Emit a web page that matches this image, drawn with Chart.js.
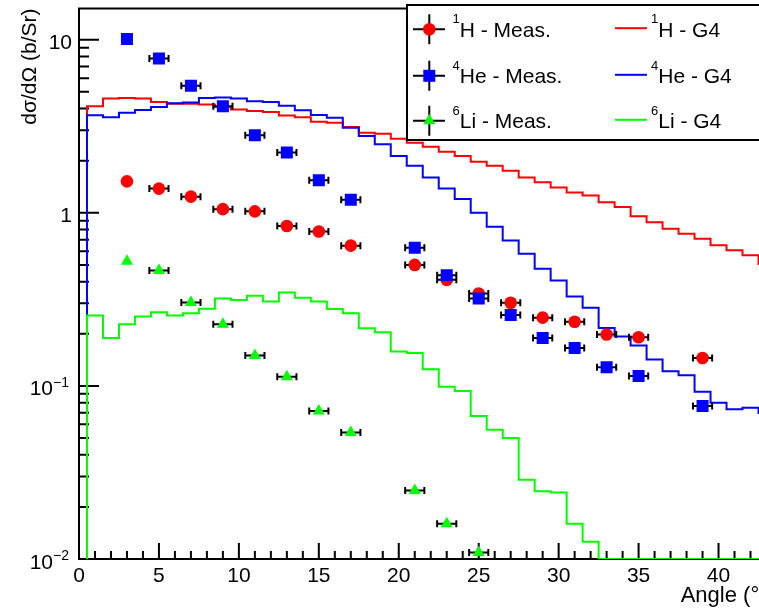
<!DOCTYPE html>
<html lang="en">
<head>
<meta charset="UTF-8">
<title>Angular distribution</title>
<script src="https://cdn.jsdelivr.net/npm/chart.js@4"></script>
<style>
  html, body { margin: 0; padding: 0; background: #fff; overflow: hidden; }
  #wrap { width: 759px; height: 611px; overflow: hidden; }
  canvas { display: block; }
</style>
</head>
<body>
<div id="wrap"><canvas id="xsec" width="775" height="611"></canvas></div>
<script>
// measured points: angle (deg) and dsigma/dOmega (b/Sr)
const measAngles = [3, 5, 7, 9, 11, 13, 15, 17, 21, 23, 25, 27, 29, 31, 33, 35, 39];
const liAngles   = [3, 5, 7, 9, 11, 13, 15, 17, 21, 23, 25];
const hMeas  = [1.52, 1.38, 1.24, 1.05, 1.02, 0.84, 0.78, 0.646, 0.50, 0.41, 0.342, 0.302, 0.248, 0.235, 0.198, 0.191, 0.145];
const heMeas = [10.1, 7.8, 5.42, 4.13, 2.81, 2.23, 1.54, 1.19, 0.629, 0.436, 0.32, 0.257, 0.189, 0.1655, 0.128, 0.114, 0.0766];
const liMeas = [0.525, 0.464, 0.303, 0.227, 0.150, 0.113, 0.0717, 0.0538, 0.0249, 0.0160, 0.0109];
const measErr = [0, 0.6, 0.6, 0.6, 0.6, 0.6, 0.6, 0.6, 0.6, 0.6, 0.6, 0.6, 0.6, 0.6, 0.6, 0.6, 0.6];
const liErr   = [0, 0.6, 0.6, 0.6, 0.6, 0.6, 0.6, 0.6, 0.6, 0.6, 0.6];

// Geant4 histograms, 1 deg bins centred on these angles
const binCenters = [1, 2, 3, 4, 5, 6, 7, 8, 9, 10, 11, 12, 13, 14, 15, 16, 17, 18, 19, 20, 21,
  22, 23, 24, 25, 26, 27, 28, 29, 30, 31, 32, 33, 34, 35, 36, 37, 38, 39, 40, 41, 42, 43];
const hG4 = [4.13, 4.57, 4.61, 4.57, 4.37, 4.27, 4.27, 4.22, 4.09, 3.95, 3.87, 3.82, 3.65, 3.57, 3.36,
  3.31, 3.13, 2.90, 2.86, 2.68, 2.54, 2.41, 2.25, 2.13, 1.97, 1.87, 1.75, 1.60, 1.50, 1.40, 1.31,
  1.26, 1.15, 1.08, 0.955, 0.883, 0.809, 0.757, 0.708, 0.649, 0.607, 0.569, 0.507];
const heG4 = [3.66, 3.56, 3.78, 3.93, 4.09, 4.29, 4.34, 4.61, 4.64, 4.57, 4.41, 4.37, 4.16, 3.92, 3.67,
  3.54, 3.10, 2.78, 2.49, 2.13, 1.87, 1.60, 1.38, 1.20, 1.00, 0.832, 0.693, 0.581, 0.475, 0.406, 0.328,
  0.283, 0.216, 0.193, 0.171, 0.142, 0.1216, 0.1153, 0.0925, 0.080, 0.0733, 0.0749, 0.0698];
const liG4 = [0.255, 0.189, 0.227, 0.252, 0.266, 0.255, 0.263, 0.279, 0.320, 0.314, 0.332, 0.307, 0.347,
  0.323, 0.307, 0.278, 0.263, 0.215, 0.2045, 0.158, 0.155, 0.125, 0.099, 0.0934, 0.0671, 0.0559, 0.050,
  0.0287, 0.0246, 0.0242, 0.0160, 0.01257, 0, 0, 0, 0, 0, 0, 0, 0, 0, 0, 0];

// axes
const X_MIN = 0, X_MAX = 43;
const Y_MIN = 0.01, Y_MAX = 15.15;
const xMajor = [0, 5, 10, 15, 20, 25, 30, 35, 40];
const xMinor = [1, 2, 3, 4, 6, 7, 8, 9, 11, 12, 13, 14, 16, 17, 18, 19, 21, 22, 23, 24, 26, 27, 28, 29,
  31, 32, 33, 34, 36, 37, 38, 39, 41, 42];
const yMajor = [0.01, 0.1, 1, 10];
const yLabels = [['10', '\u22122'], ['10', '\u22121'], ['1', ''], ['10', '']];
const yMinorMant = [2, 3, 4, 5, 6, 7, 8, 9];

const FONT = '"Liberation Sans", Helvetica, Arial, sans-serif';
const RED = '#ff0000', BLUE = '#0000ff', GREEN = '#00ff00';

function histPoints(vals) {
  // ROOT style: start from the floor, step through each bin, zero bins sit on the floor
  const pts = [{x: binCenters[0] - 0.5, y: Y_MIN}];
  vals.forEach((v, i) => {
    const y = v > 0 ? v : Y_MIN;
    pts.push({x: binCenters[i] - 0.5, y: y}, {x: binCenters[i] + 0.5, y: y});
  });
  return pts;
}

function pts(xs, ys) {
  return xs.map((a, i) => ({x: a, y: ys[i]}));
}

function marker(ctx, style, x, y, color) {
  ctx.fillStyle = color;
  ctx.beginPath();
  if (style === 'circle') {
    ctx.arc(x, y, 6.3, 0, Math.PI * 2);
  } else if (style === 'rect') {
    ctx.rect(x - 6, y - 6, 12, 12);
  } else {
    ctx.moveTo(x, y - 7);
    ctx.lineTo(x + 6.06, y + 3.5);
    ctx.lineTo(x - 6.06, y + 3.5);
    ctx.closePath();
  }
  ctx.fill();
}

function errBars(ctx, xs, ys, errs, sx, sy) {
  xs.forEach((a, i) => {
    if (!errs[i]) return;
    const y = sy.getPixelForValue(ys[i]);
    const x0 = sx.getPixelForValue(a - errs[i]);
    const x1 = sx.getPixelForValue(a + errs[i]);
    ctx.moveTo(x0, y); ctx.lineTo(x1, y);
    ctx.moveTo(x0, y - 3.5); ctx.lineTo(x0, y + 3.5);
    ctx.moveTo(x1, y - 3.5); ctx.lineTo(x1, y + 3.5);
  });
}

// frame, ticks and labels, drawn under the data like ROOT does
const rootFrame = {
  id: 'rootFrame',
  beforeDatasetsDraw(chart) {
    const {ctx, chartArea: a, scales: {x, y}} = chart;
    ctx.save();
    ctx.strokeStyle = '#000';
    ctx.lineWidth = 2;
    ctx.strokeRect(a.left, a.top, a.right - a.left, a.bottom - a.top);

    ctx.beginPath();
    xMajor.forEach(v => {
      const px = x.getPixelForValue(v);
      ctx.moveTo(px, a.bottom); ctx.lineTo(px, a.bottom - 16);
    });
    xMinor.forEach(v => {
      const px = x.getPixelForValue(v);
      ctx.moveTo(px, a.bottom); ctx.lineTo(px, a.bottom - 8);
    });
    yMajor.forEach(v => {
      const py = y.getPixelForValue(v);
      ctx.moveTo(a.left, py); ctx.lineTo(a.left + 20, py);
      yMinorMant.forEach(m => {
        if (m * v > Y_MAX) return;
        const pm = y.getPixelForValue(m * v);
        ctx.moveTo(a.left, pm); ctx.lineTo(a.left + 10, pm);
      });
    });
    ctx.stroke();

    ctx.fillStyle = '#000';
    ctx.font = '21px ' + FONT;
    ctx.textBaseline = 'alphabetic';
    ctx.textAlign = 'center';
    xMajor.forEach(v => ctx.fillText(String(v), x.getPixelForValue(v), 582));

    yMajor.forEach((v, i) => {
      const [base, sup] = yLabels[i];
      const py = y.getPixelForValue(v);
      ctx.textAlign = 'left';
      if (sup) {
        ctx.font = '21px ' + FONT;
        const wb = ctx.measureText(base).width;
        ctx.font = '14px ' + FONT;
        const ws = ctx.measureText(sup).width;
        const x0 = 69 - wb - ws;
        ctx.font = '21px ' + FONT;
        ctx.fillText(base, x0, py + 9.5);
        ctx.font = '14px ' + FONT;
        ctx.fillText(sup, x0 + wb, py + 1);
      } else {
        ctx.font = '21px ' + FONT;
        ctx.textAlign = 'right';
        ctx.fillText(base, 72, py + 9);
      }
    });

    ctx.font = '22px ' + FONT;
    ctx.textAlign = 'right';
    ctx.fillText('Angle (\u00b0)', a.right, 602);

    ctx.save();
    ctx.font = '21px ' + FONT;
    ctx.translate(30, a.top);
    ctx.rotate(-Math.PI / 2);
    ctx.textAlign = 'right';
    ctx.textBaseline = 'middle';
    ctx.fillText('d\u03c3/d\u03a9 (b/Sr)', 0, 0);
    ctx.restore();
    ctx.restore();
  },
  beforeDatasetDraw(chart, args) {
    // error bars go in right before the first measured set, so markers sit on top
    if (!chart.data.datasets[args.index].firstMeas) return;
    const {ctx, scales: {x, y}} = chart;
    ctx.save();
    ctx.strokeStyle = '#000';
    ctx.lineWidth = 2;
    ctx.beginPath();
    errBars(ctx, measAngles, hMeas, measErr, x, y);
    errBars(ctx, measAngles, heMeas, measErr, x, y);
    errBars(ctx, liAngles, liMeas, liErr, x, y);
    ctx.stroke();
    ctx.restore();
  }
};

const legendRows = [
  {sup: '1', name: 'H', color: RED, style: 'circle', base: 36.7},
  {sup: '4', name: 'He', color: BLUE, style: 'rect', base: 83.3},
  {sup: '6', name: 'Li', color: GREEN, style: 'triangle', base: 128.3}
];

function supText(ctx, x, base, sup, text) {
  ctx.font = '13px ' + FONT;
  ctx.fillText(sup, x, base - 13.5);
  const w = ctx.measureText(sup).width;
  ctx.font = '21px ' + FONT;
  ctx.fillText(text, x + w, base);
}

const rootLegend = {
  id: 'rootLegend',
  afterDraw(chart) {
    const ctx = chart.ctx;
    ctx.save();
    ctx.fillStyle = '#fff';
    ctx.fillRect(407, 5, 400, 135);
    ctx.strokeStyle = '#000';
    ctx.lineWidth = 2;
    ctx.strokeRect(407, 5, 400, 135);

    legendRows.forEach(r => {
      const my = r.base - 7.5;
      ctx.strokeStyle = '#000';
      ctx.lineWidth = 2;
      ctx.beginPath();
      ctx.moveTo(413, my); ctx.lineTo(445, my);
      ctx.moveTo(429.3, my - 15); ctx.lineTo(429.3, my + 15);
      ctx.stroke();
      marker(ctx, r.style, 429.3, my, r.color);

      ctx.strokeStyle = r.color;
      ctx.beginPath();
      ctx.moveTo(615, my - 1); ctx.lineTo(647, my - 1);
      ctx.stroke();

      ctx.fillStyle = '#000';
      ctx.textAlign = 'left';
      ctx.textBaseline = 'alphabetic';
      supText(ctx, 452.5, r.base, r.sup, r.name + ' - Meas.');
      supText(ctx, 651, r.base, r.sup, r.name + ' - G4');
    });
    ctx.restore();
  }
};

function histSet(label, vals, color, order) {
  return {
    label: label, data: histPoints(vals), showLine: true, borderColor: color,
    borderWidth: 2, pointRadius: 0, fill: false, tension: 0, order: order
  };
}

function measSet(label, xs, ys, color, style, radius, order) {
  return {
    label: label, data: pts(xs, ys), showLine: false, backgroundColor: color,
    borderWidth: 0, pointStyle: style, pointRadius: radius, order: order
  };
}

const hSet = measSet('1H - Meas.', measAngles, hMeas, RED, 'circle', 6.3, 3);
hSet.firstMeas = true;

new Chart(document.getElementById('xsec'), {
  type: 'scatter',
  data: {
    datasets: [
      histSet('1H - G4', hG4, RED, 6),
      histSet('4He - G4', heG4, BLUE, 5),
      histSet('6Li - G4', liG4, GREEN, 4),
      hSet,
      measSet('4He - Meas.', measAngles, heMeas, BLUE, 'rect', 8.5, 2),
      measSet('6Li - Meas.', liAngles, liMeas, GREEN, 'triangle', 7, 1)
    ]
  },
  options: {
    responsive: false,
    devicePixelRatio: 1,
    animation: false,
    events: [],
    layout: {padding: {left: 79, top: 5, right: 8, bottom: 52}},
    plugins: {legend: {display: false}, tooltip: {enabled: false}},
    scales: {
      x: {type: 'linear', min: X_MIN, max: X_MAX, bounds: 'data', display: false},
      y: {type: 'logarithmic', min: Y_MIN, max: Y_MAX, bounds: 'data', display: false}
    }
  },
  plugins: [rootFrame, rootLegend]
});
</script>
</body>
</html>
